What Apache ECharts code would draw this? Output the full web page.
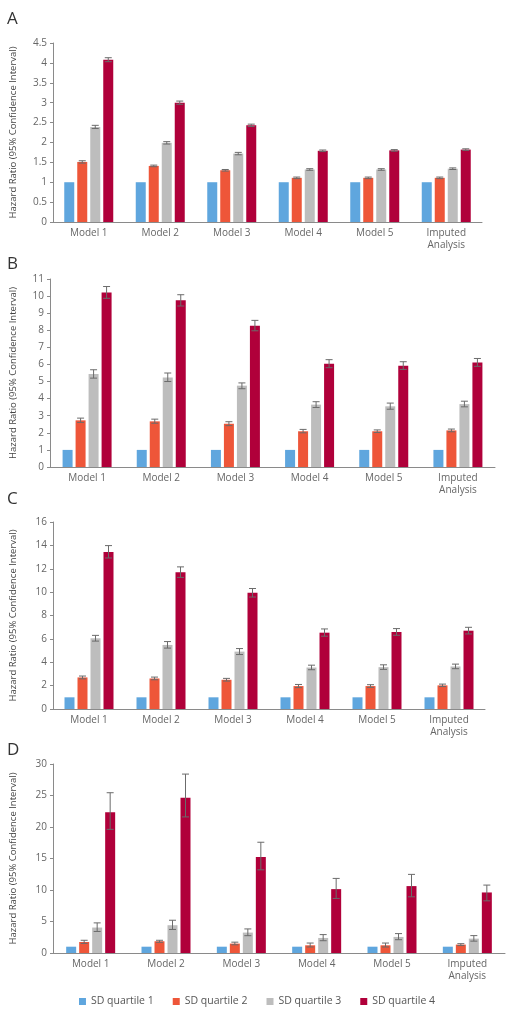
<!DOCTYPE html>
<html><head><meta charset="utf-8">
<script src="https://cdn.jsdelivr.net/npm/echarts@6/dist/echarts.min.js"></script>
<style>html,body{margin:0;padding:0;background:#fff}#c{width:514px;height:1016px}</style>
</head><body><div id="c"></div>
<script>
const categories = ['Model 1','Model 2','Model 3','Model 4','Model 5','Imputed\nAnalysis'];
const seriesNames = ['SD quartile 1','SD quartile 2','SD quartile 3','SD quartile 4'];
const colors = ['#5fa6de','#ee5639','#bdbdbd','#b0003a'];
const panelLabels = ['A','B','C','D'];
const yMax = [4.5, 11, 16, 30];
const yInterval = [0.5, 1, 2, 5];

const q1 = [1,1,1,1,1,1];

// Panel A
const aQ2 = [1.51,1.41,1.30,1.11,1.11,1.11];
const aQ2Lo = [1.48,1.39,1.28,1.09,1.09,1.09];
const aQ2Hi = [1.54,1.43,1.32,1.13,1.13,1.13];
const aQ3 = [2.39,1.99,1.72,1.32,1.32,1.34];
const aQ3Lo = [2.35,1.96,1.69,1.30,1.30,1.32];
const aQ3Hi = [2.43,2.02,1.75,1.34,1.34,1.36];
const aQ4 = [4.08,3.00,2.43,1.79,1.80,1.82];
const aQ4Lo = [4.03,2.96,2.40,1.77,1.78,1.80];
const aQ4Hi = [4.13,3.04,2.46,1.81,1.82,1.84];

// Panel B
const bQ2 = [2.73,2.67,2.53,2.09,2.09,2.14];
const bQ2Lo = [2.61,2.56,2.42,2.00,2.02,2.06];
const bQ2Hi = [2.86,2.80,2.65,2.20,2.17,2.22];
const bQ3 = [5.44,5.24,4.76,3.65,3.55,3.68];
const bQ3Lo = [5.20,5.00,4.58,3.48,3.38,3.52];
const bQ3Hi = [5.69,5.50,4.92,3.82,3.74,3.85];
const bQ4 = [10.21,9.75,8.27,6.04,5.93,6.12];
const bQ4Lo = [9.87,9.42,7.97,5.81,5.71,5.89];
const bQ4Hi = [10.56,10.08,8.58,6.28,6.16,6.35];

// Panel C
const cQ2 = [2.70,2.61,2.50,1.96,1.96,2.02];
const cQ2Lo = [2.58,2.50,2.39,1.83,1.85,1.92];
const cQ2Hi = [2.82,2.73,2.62,2.10,2.08,2.13];
const cQ3 = [6.05,5.48,4.91,3.55,3.58,3.64];
const cQ3Lo = [5.81,5.21,4.66,3.36,3.39,3.45];
const cQ3Hi = [6.30,5.77,5.17,3.75,3.78,3.84];
const cQ4 = [13.44,11.70,9.94,6.53,6.59,6.70];
const cQ4Lo = [12.92,11.26,9.58,6.23,6.31,6.42];
const cQ4Hi = [13.98,12.16,10.31,6.85,6.88,6.99];

// Panel D
const dQ2 = [1.75,1.86,1.49,1.22,1.22,1.33];
const dQ2Lo = [1.52,1.70,1.30,0.95,0.95,1.18];
const dQ2Hi = [2.02,2.02,1.72,1.58,1.58,1.48];
const dQ3 = [4.04,4.41,3.24,2.39,2.55,2.28];
const dQ3Lo = [3.42,3.74,2.75,1.95,2.11,1.88];
const dQ3Hi = [4.78,5.20,3.82,2.92,3.08,2.76];
const dQ4 = [22.33,24.65,15.24,10.14,10.62,9.61];
const dQ4Lo = [19.63,21.6,13.2,8.66,8.92,8.28];
const dQ4Hi = [25.44,28.4,17.58,11.84,12.48,10.78];

const panels = [
  {vals:[q1,aQ2,aQ3,aQ4], lo:[null,aQ2Lo,aQ3Lo,aQ4Lo], hi:[null,aQ2Hi,aQ3Hi,aQ4Hi]},
  {vals:[q1,bQ2,bQ3,bQ4], lo:[null,bQ2Lo,bQ3Lo,bQ4Lo], hi:[null,bQ2Hi,bQ3Hi,bQ4Hi]},
  {vals:[q1,cQ2,cQ3,cQ4], lo:[null,cQ2Lo,cQ3Lo,cQ4Lo], hi:[null,cQ2Hi,cQ3Hi,cQ4Hi]},
  {vals:[q1,dQ2,dQ3,dQ4], lo:[null,dQ2Lo,dQ3Lo,dQ4Lo], hi:[null,dQ2Hi,dQ3Hi,dQ4Hi]}
];

const grids = [
  {left:50, right:32, top:43, height:179},
  {left:47, right:19, top:279, height:188},
  {left:50, right:29, top:522, height:187},
  {left:51, right:9, top:764, height:189}
];
const letterTops = [11, 256, 491, 742];

const FONT = '"Open Sans", sans-serif';
const BW = 10, GAP = 0.3;

function errRender(k){
  const off = (k - 1.5) * BW * (1 + GAP);
  return function(params, api){
    const lo = api.coord([api.value(0), api.value(1)]);
    const hi = api.coord([api.value(0), api.value(2)]);
    const x = lo[0] + off;
    const cw = 3.5;
    const st = {stroke:'#6b6b6b', lineWidth:1};
    return {type:'group', children:[
      {type:'line', shape:{x1:x, y1:lo[1], x2:x, y2:hi[1]}, style:st},
      {type:'line', shape:{x1:x-cw, y1:hi[1], x2:x+cw, y2:hi[1]}, style:st},
      {type:'line', shape:{x1:x-cw, y1:lo[1], x2:x+cw, y2:lo[1]}, style:st}
    ]};
  };
}

const option = {
  animation:false,
  backgroundColor:'#fff',
  textStyle:{fontFamily:FONT},
  legend:{
    data:seriesNames, bottom:4, left:'center', icon:'rect', itemWidth:7, itemHeight:7, itemGap:19,
    textStyle:{fontFamily:FONT, fontSize:10.5, color:'#555'}
  },
  graphic: panelLabels.map((t,i)=>({type:'text', left:7, top:letterTops[i], style:{text:t, font:'17px '+FONT, fill:'#333'}})),
  grid: grids.map(g=>Object.assign({containLabel:false}, g)),
  xAxis: grids.map((g,i)=>({
    type:'category', gridIndex:i, data:categories,
    axisLine:{lineStyle:{color:'#8a8a8a', width:1}}, axisTick:{show:false},
    axisLabel:{color:'#666', fontSize:10, fontFamily:FONT, margin:5, lineHeight:12, interval:0}
  })),
  yAxis: grids.map((g,i)=>({
    type:'value', gridIndex:i, min:0, max:yMax[i], interval:yInterval[i],
    name:'Hazard Ratio (95% Confidence Interval)', nameLocation:'middle', nameGap:i===1?32:35,
    nameTextStyle:{fontFamily:FONT, fontSize:9.5, color:'#444'},
    axisLine:{show:true, lineStyle:{color:'#8a8a8a', width:1}},
    axisTick:{show:true, length:3, lineStyle:{color:'#8a8a8a'}},
    splitLine:{show:false},
    axisLabel:{color:'#666', fontSize:10, fontFamily:FONT, margin:6}
  })),
  series: []
};

panels.forEach((p,i)=>{
  for(let k=0;k<4;k++){
    option.series.push({
      type:'bar', name:seriesNames[k], xAxisIndex:i, yAxisIndex:i,
      data:p.vals[k], barWidth:BW, barGap:(GAP*100)+'%',
      itemStyle:{color:colors[k]}
    });
  }
  for(let k=1;k<4;k++){
    option.series.push({
      type:'custom', name:'err'+i+k, xAxisIndex:i, yAxisIndex:i, z:5,
      renderItem: errRender(k),
      encode:{x:0, y:[1,2]},
      data: categories.map((c,j)=>[j, p.lo[k][j], p.hi[k][j]])
    });
  }
});

const chart = echarts.init(document.getElementById('c'), null, {renderer:'canvas'});
chart.setOption(option);
</script>
</body></html>
